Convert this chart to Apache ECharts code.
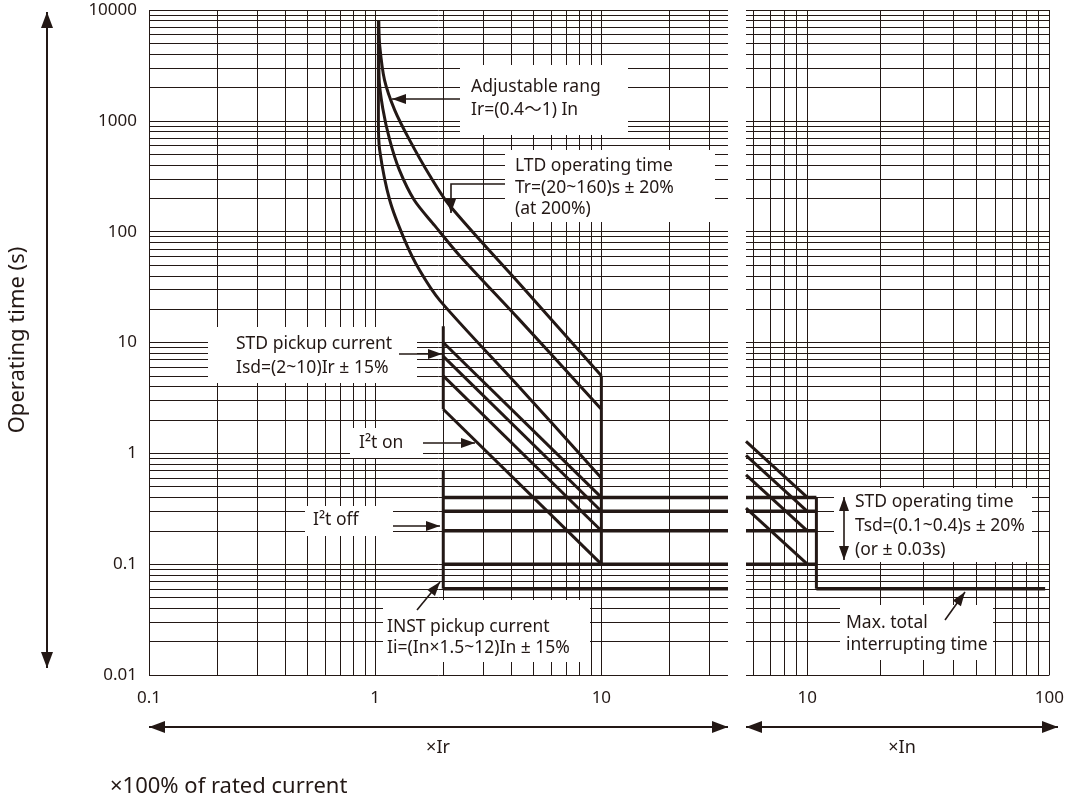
<!DOCTYPE html>
<html><head><meta charset="utf-8">
<script src="https://cdn.jsdelivr.net/npm/echarts@6/dist/echarts.min.js"></script>
<style>html,body{margin:0;padding:0;background:#fff}#c{width:1067px;height:801px}</style>
</head><body><div id="c"></div>
<script>
// ---------- axis / tick data ----------
const yTickValues = [0.01, 0.1, 1, 10, 100, 1000, 10000];
const yTickLabels = ['0.01', '0.1', '1', '10', '100', '1000', '10000'];
const xLeftTickValues = [0.1, 1, 10];
const xLeftTickLabels = ['0.1', '1', '10'];
const xRightTickValues = [10, 100];
const xRightTickLabels = ['10', '100'];
const mantissas = [1, 2, 3, 4, 5, 6, 7, 8, 9];
const yDecades = [0.01, 0.1, 1, 10, 100, 1000];
const xLeftDecades = [0.1, 1, 10];
const xRightDecades = [1, 10];
const xLeftRange = [0.1, 36.3];
const xRightRange = [5.58, 100];
const yRange = [0.01, 10000];

// ---------- curve data (current multiple, time s) ----------
const ltd160 = [[1.036, 8000], [1.047, 4800], [1.10, 2330], [1.22, 1250], [1.42, 670], [1.74, 323], [2.13, 173], [4.57, 30.2], [10, 5]];
const ltd80 = [[1.036, 8000], [1.04, 2500], [1.08, 1300], [1.16, 670], [1.28, 359], [1.49, 192], [1.83, 114], [2.36, 61], [4.35, 16], [10, 2.5]];
const ltd20 = [[1.033, 8000], [1.033, 1000], [1.047, 543], [1.16, 192], [1.35, 84], [1.57, 45], [1.93, 24], [4.35, 3.93], [10, 0.6]];
const stdDiag01 = [[2, 2.5], [10, 0.1]];
const stdDiag02 = [[2, 5], [10, 0.2]];
const stdDiag03 = [[2, 7.5], [10, 0.3]];
const stdDiag04 = [[2, 10], [10, 0.4]];
const stdPickup = [[2, 14], [2, 2.5]];
const instPickup = [[2, 0.7], [2, 0.06]];
const ltdEnd = [[10, 5], [10, 0.1]];
const tsdLevels = [0.1, 0.2, 0.3, 0.4];
const instTime = 0.06;
const stdPickupCurrent = 2;
const rightDiag04 = [[5.58, 1.28], [10, 0.4]];
const rightDiag03 = [[5.58, 0.96], [10, 0.3]];
const rightDiag02 = [[5.58, 0.64], [10, 0.2]];
const rightDiag01 = [[5.58, 0.32], [10, 0.1]];
const rightInstCurrent = 10.9;
const rightInstEnd = 96;

// ---------- build ----------
const INK = '#231815';
const FONT = '"Noto Sans", "Noto Sans CJK JP", sans-serif';
function gridVals(decades, lo, hi) {
  const out = [];
  decades.forEach(d => mantissas.forEach(m => { const v = +(d * m).toPrecision(6); if (v >= lo - 1e-9 && v <= hi + 1e-9) out.push(v); }));
  return out;
}
const hVals = gridVals(yDecades, yRange[0], yRange[1]).concat([10000]);
const vLeft = gridVals(xLeftDecades, xLeftRange[0], xLeftRange[1]);
const vRight = gridVals(xRightDecades, xRightRange[0], xRightRange[1]).concat([100]);

function labelFmt(vals, labels) {
  return function (v) {
    for (let i = 0; i < vals.length; i++) if (Math.abs(v - vals[i]) / vals[i] < 1e-6) return labels[i];
    return '';
  };
}
function gridSeries(gi, vs, hs) {
  return {
    type: 'line', xAxisIndex: gi, yAxisIndex: gi, z: 1, silent: true,
    data: [], symbol: 'none', animation: false,
    markLine: {
      z: 1, silent: true, symbol: ['none', 'none'], animation: false,
      label: { show: false },
      lineStyle: { color: INK, width: 1, type: 'solid' },
      emphasis: { disabled: true },
      data: vs.map(v => ({ xAxis: v })).concat(hs.map(v => ({ yAxis: v })))
    }
  };
}
function curve(gi, data, smooth, w) {
  return {
    type: 'line', xAxisIndex: gi, yAxisIndex: gi, z: 4, silent: true,
    data: data, symbol: 'none', smooth: smooth || false, animation: false,
    lineStyle: { color: INK, width: w || 3, cap: 'butt', join: 'miter' }
  };
}
const series = [
  gridSeries(0, vLeft, hVals),
  gridSeries(1, vRight, hVals),
  curve(0, ltd160, 0.3), curve(0, ltd80, 0.3), curve(0, ltd20, 0.3),
  curve(0, stdDiag01), curve(0, stdDiag02), curve(0, stdDiag03), curve(0, stdDiag04),
  curve(0, stdPickup), curve(0, instPickup), curve(0, ltdEnd),
  curve(0, [[stdPickupCurrent, instTime], [xLeftRange[1], instTime]], false, 3.5)
];
tsdLevels.forEach(l => series.push(curve(0, [[stdPickupCurrent, l], [xLeftRange[1], l]], false, 3.5)));
[rightDiag04, rightDiag03, rightDiag02, rightDiag01].forEach(d => series.push(curve(1, d)));
tsdLevels.forEach(l => series.push(curve(1, [[xRightRange[0], l], [rightInstCurrent, l]], false, 3.5)));
series.push(curve(1, [[rightInstCurrent, tsdLevels[3]], [rightInstCurrent, instTime]]));
series.push(curve(1, [[rightInstCurrent, instTime], [rightInstEnd, instTime]], false, 3.5));

function xAxis(gi, range, tv, tl) {
  return {
    type: 'log', logBase: 10, gridIndex: gi, min: range[0], max: range[1],
    axisLine: { show: false }, axisTick: { show: false }, splitLine: { show: false },
    axisLabel: { formatter: labelFmt(tv, tl), margin: 15, color: INK, fontSize: 17, fontFamily: FONT, showMinLabel: true, showMaxLabel: true }
  };
}
function yAxis(gi, show) {
  return {
    type: 'log', logBase: 10, gridIndex: gi, min: yRange[0], max: yRange[1],
    axisLine: { show: false }, axisTick: { show: false }, splitLine: { show: false },
    axisLabel: { show: show, formatter: labelFmt(yTickValues, yTickLabels), margin: 12, color: INK, fontSize: 17, fontFamily: FONT }
  };
}

// ---------- annotations ----------
const G = [];
const AF = 17.5;
function box(x, y, w, h) { G.push({ type: 'rect', z: 3, silent: true, shape: { x, y, width: w, height: h }, style: { fill: '#fff' } }); }
function txt(s, x, y, size, align) {
  G.push({ type: 'text', z: 3, silent: true, x, y, style: { text: s, fill: INK, font: (size || AF) + 'px ' + FONT, align: align || 'left', verticalAlign: 'middle' } });
}
function head(x1, y1, x2, y2, len, half) {
  const a = Math.atan2(y2 - y1, x2 - x1), c = Math.cos(a), s = Math.sin(a);
  const bx = x2 - c * len, by = y2 - s * len;
  G.push({ type: 'polygon', z: 6, silent: true, shape: { points: [[x2, y2], [bx - s * half, by + c * half], [bx + s * half, by - c * half]] }, style: { fill: INK } });
}
function arrow(pts, both, len, half, w) {
  len = len || 14; half = half || 5;
  const p = pts.slice();
  G.push({ type: 'polyline', z: 6, silent: true, shape: { points: p }, style: { stroke: INK, lineWidth: w || 1.6, fill: null } });
  const n = p.length;
  head(p[n - 2][0], p[n - 2][1], p[n - 1][0], p[n - 1][1], len, half);
  if (both) head(p[1][0], p[1][1], p[0][0], p[0][1], len, half);
}

box(460, 65, 168, 70);
txt('Adjustable rang', 471, 87); txt('Ir=(0.4～1) In', 471, 110);
arrow([[460, 99], [392, 99]]);

box(505, 150, 210, 72);
txt('LTD operating time', 515, 166); txt('Tr=(20~160)s ± 20%', 515, 188); txt('(at 200%)', 515, 209);
arrow([[505, 184], [451, 184], [451, 213]]);

box(208, 327, 209, 56);
txt('STD pickup current', 236, 344); txt('Isd=(2~10)Ir ± 15%', 236, 368);
arrow([[399, 354], [442, 354]]);

box(350, 428, 73, 30);
txt('I²t on', 359, 443);
arrow([[423, 443], [475, 443]]);

box(305, 506, 88, 30);
txt('I²t off', 313, 520);
arrow([[393, 526], [440, 526]]);

box(383, 600, 207, 62);
txt('INST pickup current', 387, 627); txt('Ii=(In×1.5~12)In ± 15%', 387, 648);
arrow([[417, 610], [440, 582]]);

box(834, 488, 198, 74);
txt('STD operating time', 855, 502); txt('Tsd=(0.1~0.4)s ± 20%', 855, 526); txt('(or ± 0.03s)', 855, 550);
arrow([[844, 497], [844, 560]], true);

box(840, 605, 153, 55);
txt('Max. total', 846, 623); txt('interrupting time', 846, 645);
arrow([[945, 620], [965, 592]]);

// big frame arrows & titles
arrow([[47, 12], [47, 668]], true, 16, 6, 2);
arrow([[149, 727], [728, 727]], true, 16, 6, 2);
arrow([[746, 727], [1058, 727]], true, 16, 6, 2);
G.push({ type: 'text', z: 3, silent: true, x: 18, y: 340, rotation: Math.PI / 2, style: { text: 'Operating time (s)', fill: INK, font: '22px ' + FONT, align: 'center', verticalAlign: 'middle' } });
txt('×Ir', 438, 748, 18, 'center');
txt('×In', 902, 748, 18, 'center');
txt('×100% of rated current', 110, 787, 22, 'left');

const chart = echarts.init(document.getElementById('c'), null, { renderer: 'canvas' });
chart.setOption({
  animation: false,
  backgroundColor: '#fff',
  grid: [
    { left: 149, top: 10, width: 579, height: 665, containLabel: false },
    { left: 746, top: 10, width: 312, height: 665, containLabel: false }
  ],
  xAxis: [xAxis(0, xLeftRange, xLeftTickValues, xLeftTickLabels), xAxis(1, xRightRange, xRightTickValues, xRightTickLabels)],
  yAxis: [yAxis(0, true), yAxis(1, false)],
  series: series,
  graphic: G
});
</script></body></html>
